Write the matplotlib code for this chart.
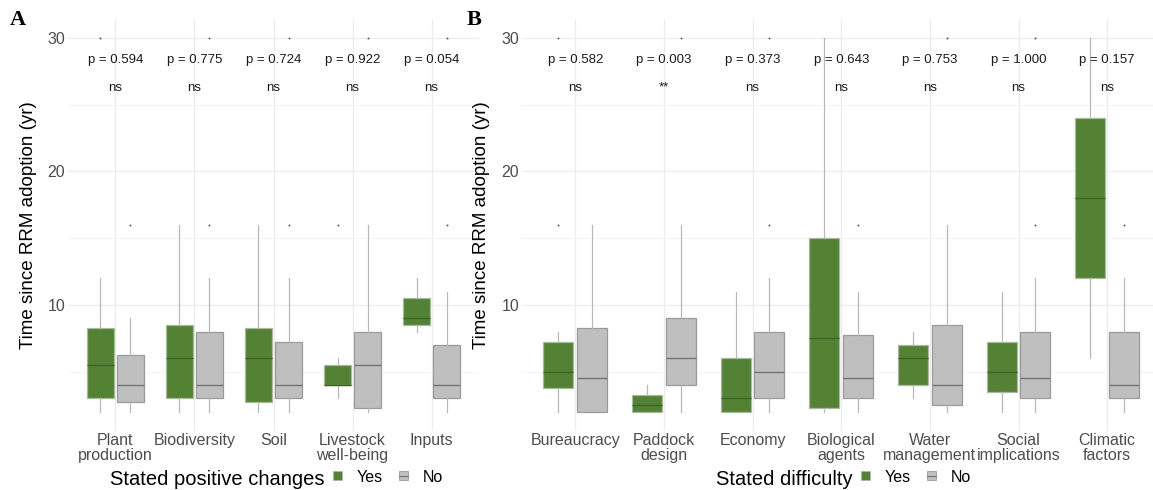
import numpy as np
import matplotlib
matplotlib.use("Agg")
import matplotlib.pyplot as plt
from matplotlib.patches import Patch
from matplotlib.lines import Line2D

plt.rcParams['font.family'] = ['Liberation Sans', 'DejaVu Sans']

# panel A: stated positive changes
cats_a = ["Plant\nproduction", "Biodiversity", "Soil", "Livestock\nwell-being", "Inputs"]
pvals_a = ["p = 0.594", "p = 0.775", "p = 0.724", "p = 0.922", "p = 0.054"]
sig_a = ["ns", "ns", "ns", "ns", "ns"]
a_yes_lo = [2, 2, 2, 3, 8]
a_yes_q1 = [3, 3, 2.75, 4, 8.5]
a_yes_med = [5.5, 6, 6, 4, 9]
a_yes_q3 = [8.25, 8.5, 8.25, 5.5, 10.5]
a_yes_hi = [12, 16, 16, 6, 12]
a_yes_out = [[30], [], [], [16], []]
a_no_lo = [2, 2, 2, 2, 2]
a_no_q1 = [2.75, 3, 3, 2.25, 3]
a_no_med = [4, 4, 4, 5.5, 4]
a_no_q3 = [6.25, 8, 7.25, 8, 7]
a_no_hi = [9, 12, 12, 16, 11]
a_no_out = [[16], [16, 30], [16, 30], [30], [16, 30]]

# panel B: stated difficulty
cats_b = ["Bureaucracy", "Paddock\ndesign", "Economy", "Biological\nagents",
          "Water\nmanagement", "Social\nimplications", "Climatic\nfactors"]
pvals_b = ["p = 0.582", "p = 0.003", "p = 0.373", "p = 0.643", "p = 0.753", "p = 1.000", "p = 0.157"]
sig_b = ["ns", "**", "ns", "ns", "ns", "ns", "ns"]
b_yes_lo = [2, 2, 2, 2, 3, 2, 6]
b_yes_q1 = [3.75, 2, 2, 2.25, 4, 3.5, 12]
b_yes_med = [5, 2.5, 3, 7.5, 6, 5, 18]
b_yes_q3 = [7.25, 3.25, 6, 15, 7, 7.25, 24]
b_yes_hi = [8, 4, 11, 30, 8, 11, 30]
b_yes_out = [[16, 30], [], [], [], [], [], []]
b_no_lo = [2, 2, 2, 2, 2, 2, 2]
b_no_q1 = [2, 4, 3, 3, 2.5, 3, 3]
b_no_med = [4.5, 6, 5, 4.5, 4, 4.5, 4]
b_no_q3 = [8.25, 9, 8, 7.75, 8.5, 8, 8]
b_no_hi = [16, 16, 12, 11, 16, 12, 12]
b_no_out = [[], [30], [16, 30], [16], [30], [16, 30], [16]]

GREEN = "#548235"
GREY = "#bfbfbf"
W, H = 1153, 490

fig = plt.figure(figsize=(W / 100, H / 100), dpi=100)
ax_a = fig.add_axes([68 / W, 59.5 / H, 411 / W, 411.5 / H])
ax_b = fig.add_axes([522 / W, 59.5 / H, 631 / W, 411.5 / H])


def stats(lo, q1, med, q3, hi, out):
    return [dict(whislo=a, q1=b, med=c, q3=d, whishi=e, fliers=f)
            for a, b, c, d, e, f in zip(lo, q1, med, q3, hi, out)]


def draw(ax, cats, yes, no, pvals, sig, xmax):
    n = len(cats)
    x = np.arange(n)
    for st, off, fc, ec, mc in [(yes, -0.19, GREEN, "#a9b99f", "#3e6127"),
                                (no, 0.19, GREY, "#9a9a9a", "#737373")]:
        ax.bxp(st, positions=x + off, widths=0.34, patch_artist=True, showcaps=False,
               boxprops=dict(facecolor=fc, edgecolor=ec, linewidth=0.9),
               medianprops=dict(color=mc, linewidth=1.0),
               whiskerprops=dict(color="#b8b8b8", linewidth=0.9),
               flierprops=dict(marker="o", markersize=1.4, markerfacecolor="#555555",
                               markeredgecolor="none"),
               manage_ticks=False, zorder=3)
    for i in range(n):
        ax.text(i, 28.3, pvals[i], ha="center", va="center", fontsize=9.5, color="#1a1a1a")
        ax.text(i, 26.25, sig[i], ha="center", va="center", fontsize=9.5, color="#1a1a1a")
    ax.set_xlim(-0.6, xmax)
    ax.set_ylim(0.6, 31.4)
    ax.set_xticks(x)
    ax.set_xticklabels(cats, fontsize=11.5, color="#4d4d4d", linespacing=0.95)
    ax.set_yticks([10, 20, 30])
    ax.set_yticks([5, 15, 25], minor=True)
    ax.tick_params(axis="both", which="both", length=0, labelsize=11.5, labelcolor="#4d4d4d")
    ax.tick_params(axis="x", pad=2)
    ax.tick_params(axis="y", pad=2)
    ax.grid(True, which="major", color="#ebebeb", linewidth=0.8)
    ax.grid(True, which="minor", axis="y", color="#f3f3f3", linewidth=0.6)
    ax.set_axisbelow(True)
    for s in ax.spines.values():
        s.set_visible(False)
    ax.set_ylabel("Time since RRM adoption (yr)", fontsize=13.5, color="black")


draw(ax_a, cats_a,
     stats(a_yes_lo, a_yes_q1, a_yes_med, a_yes_q3, a_yes_hi, a_yes_out),
     stats(a_no_lo, a_no_q1, a_no_med, a_no_q3, a_no_hi, a_no_out),
     pvals_a, sig_a, 4.6)
draw(ax_b, cats_b,
     stats(b_yes_lo, b_yes_q1, b_yes_med, b_yes_q3, b_yes_hi, b_yes_out),
     stats(b_no_lo, b_no_q1, b_no_med, b_no_q3, b_no_hi, b_no_out),
     pvals_b, sig_b, (1153 - 575) / 88.7)
ax_a.yaxis.set_label_coords((37 - 68) / 411, 0.5)
ax_b.yaxis.set_label_coords((490 - 522) / 631, 0.5)

fig.text(10 / W, 1 - 20 / H, "A", fontsize=16, fontweight="bold",
         family="Liberation Serif", va="center", ha="left")
fig.text(467 / W, 1 - 20 / H, "B", fontsize=16, fontweight="bold",
         family="Liberation Serif", va="center", ha="left")

handles = [(Patch(facecolor=GREEN, edgecolor="#a9b99f", linewidth=0.6),),
           (Patch(facecolor=GREY, edgecolor="#9a9a9a", linewidth=0.6),
            Line2D([], [], color="#737373", linewidth=0.8))]
renderer = fig.canvas.get_renderer()
for title, x0 in [("Stated positive changes", 110), ("Stated difficulty", 716)]:
    t = fig.text(x0 / W, 1 - 479 / H, title, fontsize=14.5, va="center", ha="left")
    ext = t.get_window_extent(renderer)
    fig.legend(handles, ["Yes", "No"], loc="center left",
               bbox_to_anchor=((ext.x1 + 8) / W, 1 - 477 / H), ncol=2, frameon=False,
               fontsize=11.5, handlelength=0.6, handleheight=0.5, handletextpad=0.9,
               columnspacing=1.0, borderpad=0, borderaxespad=0)

fig.savefig("out.png", dpi=100)
